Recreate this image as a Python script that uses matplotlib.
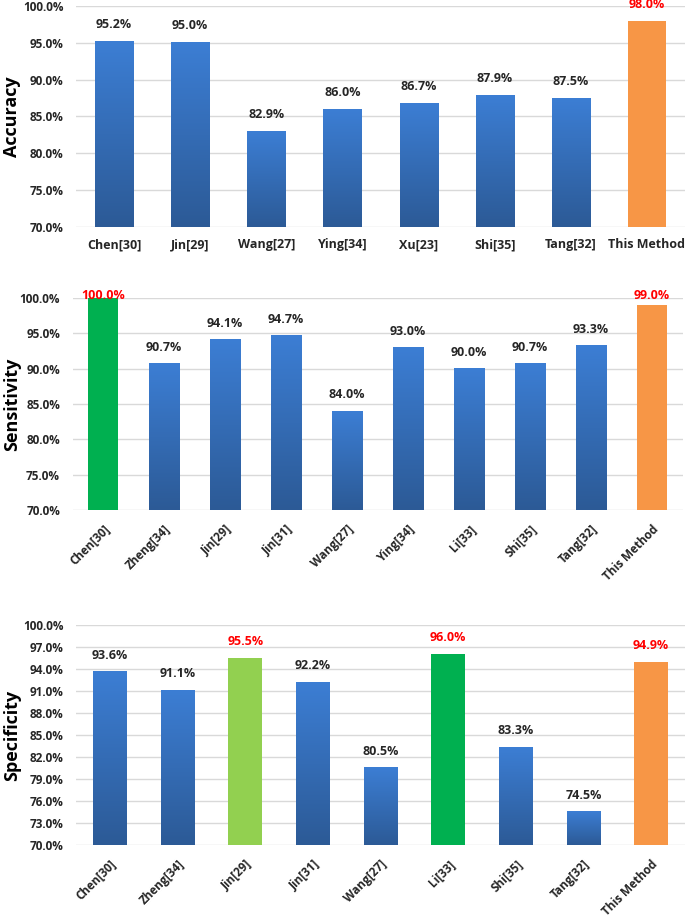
import numpy as np
import matplotlib
matplotlib.use('Agg')
import matplotlib.pyplot as plt
from matplotlib.colors import LinearSegmentedColormap

plt.rcParams['font.family'] = ['Open Sans', 'DejaVu Sans']
plt.rcParams['font.weight'] = 'bold'

# data
acc_names = ['Chen[30]', 'Jin[29]', 'Wang[27]', 'Ying[34]', 'Xu[23]', 'Shi[35]', 'Tang[32]', 'This Method']
acc_values = [95.2, 95.0, 82.9, 86.0, 86.7, 87.9, 87.5, 98.0]

sen_names = ['Chen[30]', 'Zheng[34]', 'Jin[29]', 'Jin[31]', 'Wang[27]', 'Ying[34]', 'Li[33]', 'Shi[35]', 'Tang[32]', 'This Method']
sen_values = [100.0, 90.7, 94.1, 94.7, 84.0, 93.0, 90.0, 90.7, 93.3, 99.0]

spe_names = ['Chen[30]', 'Zheng[34]', 'Jin[29]', 'Jin[31]', 'Wang[27]', 'Li[33]', 'Shi[35]', 'Tang[32]', 'This Method']
spe_values = [93.6, 91.1, 95.5, 92.2, 80.5, 96.0, 83.3, 74.5, 94.9]

# bar colours: 'b' = blue gradient, others solid
acc_colors = ['b', 'b', 'b', 'b', 'b', 'b', 'b', '#F79646']
sen_colors = ['#00B050', 'b', 'b', 'b', 'b', 'b', 'b', 'b', 'b', '#F79646']
spe_colors = ['b', 'b', '#92D050', 'b', 'b', '#00B050', 'b', 'b', '#F79646']

blue_grad = LinearSegmentedColormap.from_list('bg', ['#2C5A96', '#3C7ED4'])
grad = np.linspace(0, 1, 256).reshape(-1, 1)


def panel(rect, names, values, colors, ylabel, yticks, rotate, label_top):
    ax = fig.add_axes(rect)
    x = np.arange(len(names))
    bars = ax.bar(x, values, width=0.5, bottom=0, color='none', zorder=3)
    for b, v, c in zip(bars, values, colors):
        x0 = b.get_x()
        x1 = x0 + b.get_width()
        if c == 'b':
            ax.imshow(grad, extent=[x0, x1, 70, v], origin='lower', cmap=blue_grad,
                      aspect='auto', zorder=3)
        else:
            ax.fill_between([x0, x1], 70, v, color=c, zorder=3, lw=0)
        txt_col = '#262626' if c == 'b' else '#FF0000'
        ax.text(x0 + b.get_width() / 2, min(v + 2.3, label_top), '%.1f%%' % v,
                ha='center', va='center', fontsize=9, color=txt_col,
                fontweight='bold', clip_on=False, zorder=4)
    ax.set_xlim(-0.5, len(names) - 0.5)
    ax.set_ylim(70, 100)
    ax.set_yticks(yticks)
    ax.set_yticklabels(['%.1f%%' % t for t in yticks], fontsize=8.5, color='#262626',
                       fontweight='bold')
    ax.grid(axis='y', color='#D9D9D9', lw=1, zorder=0)
    for s in ax.spines.values():
        s.set_visible(False)
    ax.tick_params(length=0)
    ax.tick_params(axis='y', pad=9)
    ax.set_xticks(x)
    if rotate:
        ax.set_xticklabels(names, rotation=45, ha='right', rotation_mode='anchor',
                           fontsize=8.5, color='#262626', fontweight='bold')
        ax.tick_params(axis='x', pad=9)
    else:
        ax.set_xticklabels(names, fontsize=9, color='#262626', fontweight='bold')
        ax.tick_params(axis='x', pad=8)
    ax.set_ylabel(ylabel, fontsize=13, fontweight='bold')
    # ylabel anchored on its right edge, about 21 px from the figure's left side
    ax.yaxis.set_label_coords(-(rect[0] * 685 - 21) / (rect[2] * 685), 0.5)
    return ax


fig = plt.figure(figsize=(6.85, 9.17), dpi=100)

panel([0.111, 0.7525, 0.889, 0.241], acc_names, acc_values, acc_colors,
      'Accuracy', np.arange(70, 101, 5), False, 100.15)
panel([0.106, 0.4438, 0.8905, 0.2312], sen_names, sen_values, sen_colors,
      'Sensitivity', np.arange(70, 101, 5), True, 100.4)
panel([0.111, 0.0785, 0.889, 0.240], spe_names, spe_values, spe_colors,
      'Specificity', np.arange(70, 101, 3), True, 101)

plt.savefig('out.png', dpi=100)
